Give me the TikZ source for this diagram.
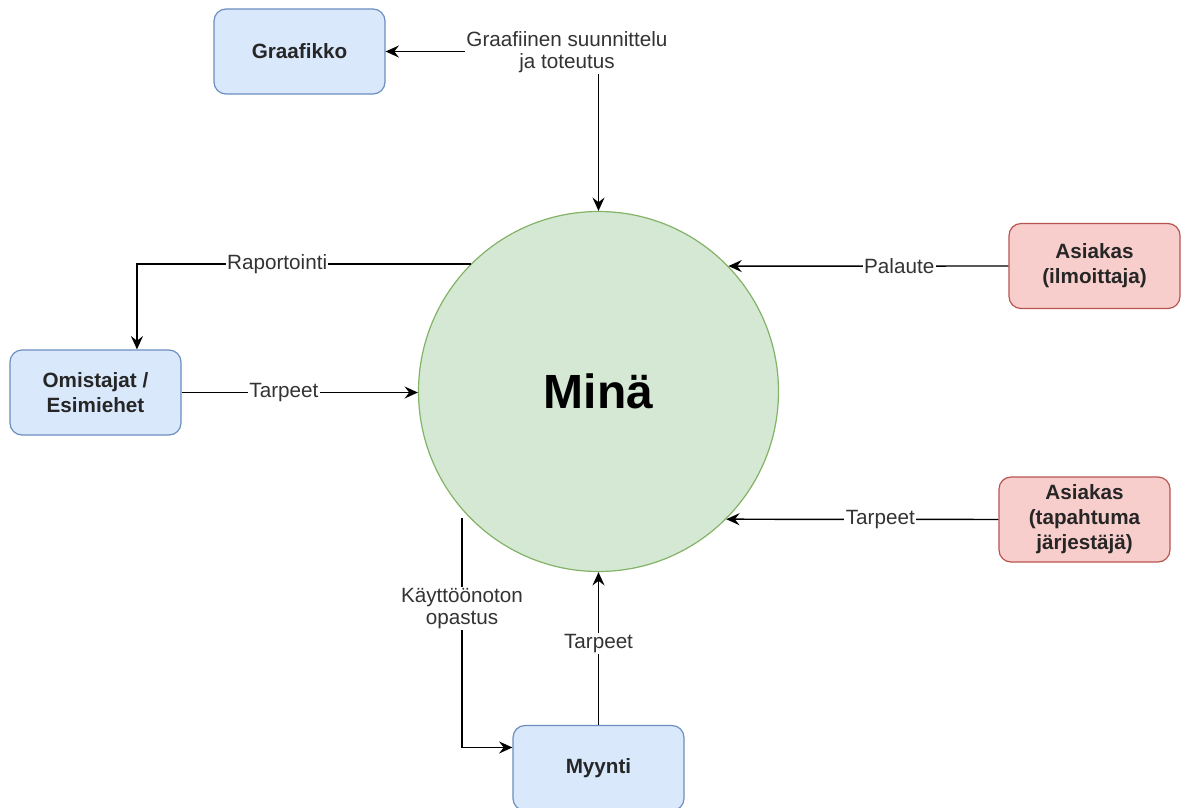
\documentclass[tikz,border=0pt]{standalone}
\usepackage{fontspec}
\setmainfont{Liberation Sans}
\usetikzlibrary{arrows.meta,calc}
\definecolor{bfill}{HTML}{DAE8FC}
\definecolor{bdraw}{HTML}{6C8EBF}
\definecolor{rfill}{HTML}{F8CECC}
\definecolor{rdraw}{HTML}{B85450}
\definecolor{gfill}{HTML}{D5E8D4}
\definecolor{gdraw}{HTML}{82B366}
\definecolor{txt}{HTML}{333333}
\begin{document}
\begin{tikzpicture}[x=0.75pt,y=-0.75pt,
  box/.style={rectangle,rounded corners=9pt,minimum width=128.25pt,minimum height=63.75pt,
    align=center,font=\fontsize{15.5}{18.75}\selectfont\bfseries,text=black!85,line width=0.9pt},
  bluebox/.style={box,fill=bfill,draw=bdraw},
  redbox/.style={box,fill=rfill,draw=rdraw},
  tip/.tip={Stealth[length=10pt,width=9pt,inset=3.5pt]},
  conn/.style={line width=1.1pt,-tip},
  lbl/.style={fill=white,inner sep=1pt,font=\fontsize{15.5}{16}\selectfont,text=txt,align=center}]
\useasboundingbox (0,0) rectangle (1187,807);
\node[bluebox] (graf) at (299.5,51.5) {Graafikko};
\node[bluebox] (omi) at (95.5,392.5) {Omistajat /\\Esimiehet};
\node[redbox] (as1) at (1094.5,266) {Asiakas\\(ilmoittaja)};
\node[redbox] (as2) at (1084.5,519.5) {Asiakas\\(tapahtuma\\järjestäjä)};
\node[bluebox] (myy) at (598.5,768) {Myynti};
\node[circle,fill=gfill,draw=gdraw,line width=0.9pt,minimum size=270pt,inner sep=0pt,
  font=\fontsize{36}{40}\selectfont\bfseries,text=black] (me) at (598.5,391.5) {Minä};

\draw[line width=1.1pt,tip-tip] (graf.east) -| (me.north);
\node[lbl] (lg) at (567,52) {Graafiinen suunnittelu\\ja toteutus};

\draw[conn] (me.135.8) -| ([xshift=31.1pt]omi.north) node[lbl,pos=0.29] {Raportointi};
\draw[conn] (omi.east) -- (omi.east -| me.west) node[lbl,pos=0.433] {Tarpeet};
\draw[conn] (as1.west) -- (me.44.2) node[lbl,pos=0.39] {Palaute};
\draw[conn] (as2.west) -- (me.-45.3) node[lbl,pos=0.434] {Tarpeet};
\draw[conn] (myy.north) -- (me.south) node[lbl,pos=0.535] {Tarpeet};
\coordinate (k0) at (462,518);
\draw[conn] (k0) |- ([yshift=15.4pt]myy.west) node[lbl,pos=0.197] {Käyttöönoton\\opastus};
\end{tikzpicture}
\end{document}
